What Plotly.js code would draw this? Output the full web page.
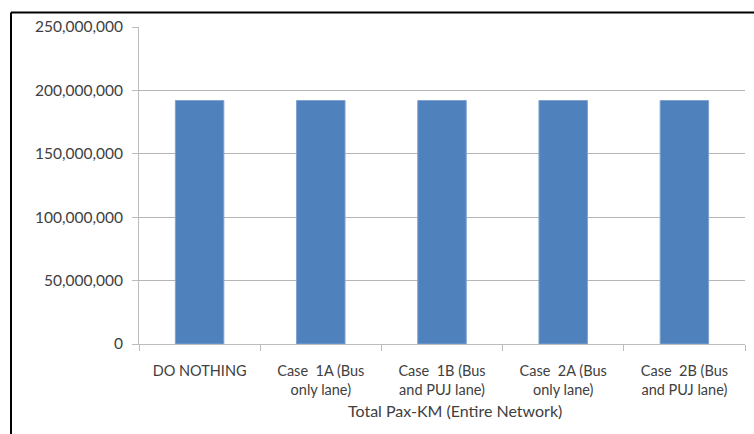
<!DOCTYPE html>
<html>
<head>
<meta charset="utf-8">
<script src="https://cdn.plot.ly/plotly-3.0.1.min.js"></script>
<style>html,body{margin:0;padding:0;background:#fff;}#chart{width:754px;height:434px;}</style>
</head>
<body>
<div id="chart"></div>
<script>
const categories = [
  "DO NOTHING",
  "Case\u00a0 1A (Bus<br>only lane)",
  "Case\u00a0 1B (Bus<br>and PUJ lane)",
  "Case\u00a0 2A (Bus<br>only lane)",
  "Case\u00a0 2B (Bus<br>and PUJ lane)"
];
const paxKm = [192000000, 192000000, 192000000, 192000000, 192000000];
const yTickValues = [0, 50000000, 100000000, 150000000, 200000000, 250000000];
const yTickLabels = ["0", "50,000,000", "100,000,000", "150,000,000", "200,000,000", "250,000,000"];
const xTitle = "Total Pax-KM (Entire Network)";

const font = "Lato, 'Open Sans', sans-serif";
const data = [{
  type: "bar",
  x: categories,
  y: paxKm,
  marker: {color: "#4f81bd", line: {color: "#7fa3d0", width: 1}},
  hoverinfo: "none"
}];
const layout = {
  width: 754, height: 434,
  margin: {l: 139, r: 9, t: 27, b: 90},
  paper_bgcolor: "#fff", plot_bgcolor: "#fff",
  bargap: 0.6,
  showlegend: false,
  font: {family: font, size: 14, color: "#404040"},
  xaxis: {
    type: "category",
    showgrid: false,
    showline: true, linecolor: "#bcbcbc", linewidth: 1,
    ticks: "outside", tickson: "boundaries", ticklen: 6, tickcolor: "#bcbcbc",
    ticklabelstandoff: 14,
    tickfont: {family: font, size: 14.5, color: "#404040"},
    automargin: false
  },
  yaxis: {
    range: [0, 250000000],
    tickvals: yTickValues, ticktext: yTickLabels,
    showgrid: true, gridcolor: "#b5b5b5", gridwidth: 1,
    showline: true, linecolor: "#bcbcbc", linewidth: 1,
    ticks: "outside", ticklen: 6, tickcolor: "#bcbcbc",
    ticklabelstandoff: 6,
    tickfont: {family: font, size: 15.5, color: "#404040"},
    zeroline: false,
    automargin: false
  },
  annotations: [{
    xref: "paper", yref: "paper", x: (455 - 139) / 606, y: (344 - 410) / 317,
    xanchor: "center", yanchor: "middle", showarrow: false,
    text: xTitle, font: {family: font, size: 16, color: "#404040"}
  }],
  shapes: [
    {type: "line", xref: "paper", yref: "paper", x0: (11 - 139) / 606, x1: 1.02, y0: (344 - 12.5) / 317, y1: (344 - 12.5) / 317, line: {color: "#000", width: 2}},
    {type: "line", xref: "paper", yref: "paper", x0: (11 - 139) / 606, x1: (11 - 139) / 606, y0: (344 - 12.5) / 317, y1: -0.3, line: {color: "#000", width: 2}}
  ]
};
Plotly.newPlot("chart", data, layout, {staticPlot: true, displayModeBar: false});
</script>
</body>
</html>
